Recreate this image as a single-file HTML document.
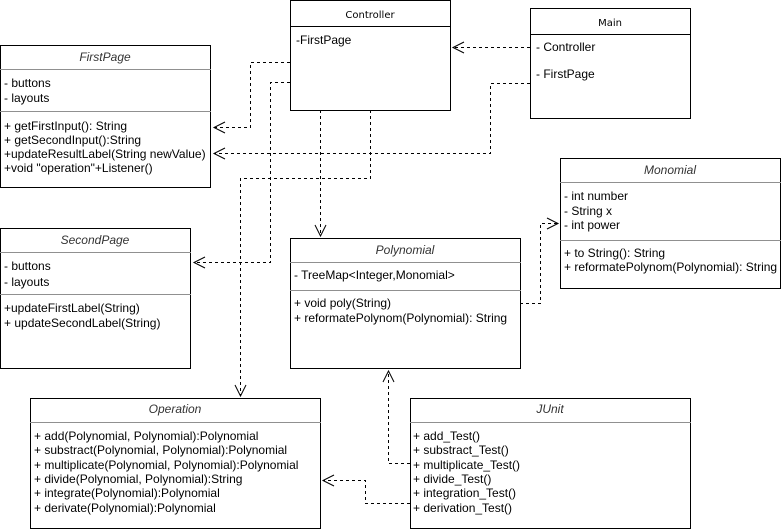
<!DOCTYPE html>
<html><head><meta charset="utf-8"><style>
html,body{margin:0;padding:0;background:#fff;}
svg{display:block;}
text{font-family:"Liberation Sans",Arial,sans-serif;}
</style></head><body>
<svg width="781" height="529" viewBox="0 0 781 529" xmlns="http://www.w3.org/2000/svg">
<g fill="#fff" stroke="#000" stroke-width="1">
<rect x="290.5" y="0.5" width="160" height="110"/>
<rect x="530.5" y="8.5" width="160" height="110"/>
<rect x="0.5" y="45.5" width="210" height="142"/>
<rect x="0.5" y="228.5" width="190" height="140"/>
<rect x="290.5" y="238.5" width="230" height="130"/>
<rect x="560.5" y="158.5" width="220" height="130"/>
<rect x="30.5" y="398.5" width="290" height="130"/>
<rect x="410.5" y="398.5" width="280" height="130"/>
</g>
<g stroke="#000" stroke-width="1">
<line x1="290" y1="26.5" x2="451" y2="26.5"/>
<line x1="530" y1="34.5" x2="691" y2="34.5"/>
</g>
<g stroke="#909090" stroke-width="1">
<line x1="0" y1="69.5" x2="211" y2="69.5"/>
<line x1="0" y1="111.5" x2="211" y2="111.5"/>
<line x1="0" y1="252.5" x2="191" y2="252.5"/>
<line x1="0" y1="294.5" x2="191" y2="294.5"/>
<line x1="290" y1="262.5" x2="521" y2="262.5"/>
<line x1="290" y1="290.5" x2="521" y2="290.5"/>
<line x1="560" y1="182.5" x2="781" y2="182.5"/>
<line x1="560" y1="240.5" x2="781" y2="240.5"/>
<line x1="30" y1="422.5" x2="321" y2="422.5"/>
<line x1="410" y1="422.5" x2="691" y2="422.5"/>
</g>
<g fill="none" stroke="#000" stroke-width="1" stroke-dasharray="3,3">
<polyline points="290,62.5 250.5,62.5 250.5,127.5 214,127.5"/>
<polyline points="290,82.5 270.5,82.5 270.5,262.5 194,262.5"/>
<polyline points="320.5,110 320.5,236"/>
<polyline points="370.5,110 370.5,178.5 240.5,178.5 240.5,396"/>
<polyline points="530,47.5 453,47.5"/>
<polyline points="530,83.5 490.5,83.5 490.5,153.5 214,153.5"/>
<polyline points="520,303.5 540.5,303.5 540.5,223.5 558,223.5"/>
<polyline points="410,463.5 388.5,463.5 388.5,371"/>
<polyline points="410,503.5 365.5,503.5 365.5,480.5 323,480.5"/>
</g>
<g fill="none" stroke="#000" stroke-width="1">
<polyline points="225,122 214,127.5 225,133"/>
<polyline points="205,257 194,262.5 205,268"/>
<polyline points="315,225 320.5,236 326,225"/>
<polyline points="235,385 240.5,396 246,385"/>
<polyline points="464,42 453,47.5 464,53"/>
<polyline points="225,148 214,153.5 225,159"/>
<polyline points="547,218 558,223.5 547,229"/>
<polyline points="383,382 388.5,371 394,382"/>
<polyline points="334,475 323,480.5 334,486"/>
</g>
<g font-size="12" fill="#000">
<text x="370" y="18" text-anchor="middle" style="font-family:'DejaVu Sans',sans-serif" font-size="10">Controller</text>
<text x="296" y="44">-FirstPage</text>
<text x="610" y="26" text-anchor="middle" style="font-family:'DejaVu Sans',sans-serif" font-size="10">Main</text>
<text x="536" y="51">- Controller</text>
<text x="536" y="78">- FirstPage</text>
<g font-style="italic" fill="#333">
<text x="105" y="61" text-anchor="middle">FirstPage</text>
<text x="95" y="244" text-anchor="middle">SecondPage</text>
<text x="405" y="254" text-anchor="middle">Polynomial</text>
<text x="670" y="174" text-anchor="middle">Monomial</text>
<text x="175" y="413" text-anchor="middle">Operation</text>
<text x="550" y="413" text-anchor="middle">JUnit</text>
</g>
<text x="4" y="87">- buttons</text>
<text x="4" y="102">- layouts</text>
<text x="4" y="130">+ getFirstInput(): String</text>
<text x="4" y="144">+ getSecondInput():String</text>
<text x="4" y="158">+updateResultLabel(String newValue)</text>
<text x="4" y="172">+void "operation"+Listener()</text>
<text x="4" y="270">- buttons</text>
<text x="4" y="286">- layouts</text>
<text x="4" y="312">+updateFirstLabel(String)</text>
<text x="4" y="327">+ updateSecondLabel(String)</text>
<text x="294" y="279">- TreeMap&lt;Integer,Monomial&gt;</text>
<text x="294" y="307">+ void poly(String)</text>
<text x="294" y="322">+ reformatePolynom(Polynomial): String</text>
<text x="564" y="200">- int number</text>
<text x="564" y="215">- String x</text>
<text x="564" y="229">- int power</text>
<text x="564" y="257">+ to String(): String</text>
<text x="564" y="271">+ reformatePolynom(Polynomial): String</text>
<text x="34" y="440">+ add(Polynomial, Polynomial):Polynomial</text>
<text x="34" y="454">+ substract(Polynomial, Polynomial):Polynomial</text>
<text x="34" y="469">+ multiplicate(Polynomial, Polynomial):Polynomial</text>
<text x="34" y="483">+ divide(Polynomial, Polynomial):String</text>
<text x="34" y="497">+ integrate(Polynomial):Polynomial</text>
<text x="34" y="512">+ derivate(Polynomial):Polynomial</text>
<text x="413" y="440">+ add_Test()</text>
<text x="413" y="454">+ substract_Test()</text>
<text x="413" y="469">+ multiplicate_Test()</text>
<text x="413" y="483">+ divide_Test()</text>
<text x="413" y="497">+ integration_Test()</text>
<text x="413" y="512">+ derivation_Test()</text>
</g>
</svg>
</body></html>
